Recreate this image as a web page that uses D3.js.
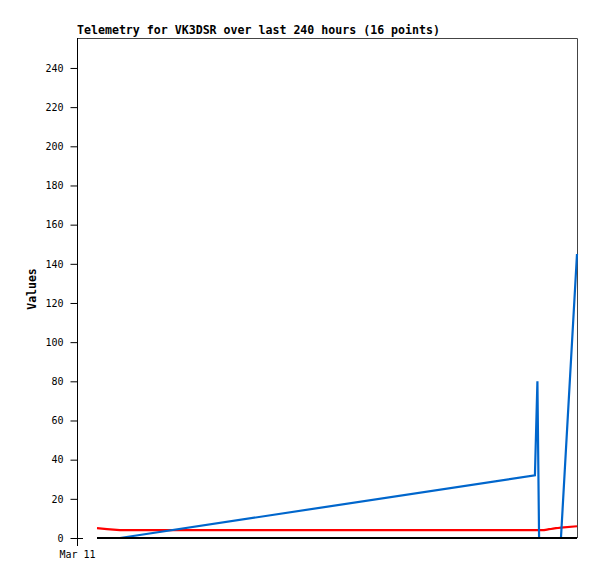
<!DOCTYPE html>
<html>
<head>
<meta charset="utf-8">
<script src="https://cdn.jsdelivr.net/npm/d3@7"></script>
<style>
  body { margin: 0; background: #fff; }
  svg { display: block; }
</style>
</head>
<body>
<div id="chart"></div>
<script>
// hours since Mar 11 00:00 for the 16 telemetry points
var hours = [9.6, 14.4, 20.6, 219.8, 221.0, 221.8, 222.7, 224.2, 225.6, 226.6, 227.5, 228.5, 229.9, 230.9, 232.3, 240];
var blueValues = [0, 0, 0, 32, 80, 0, 0, 0, 0, 0, 0, 0, 0, 0, 0, 145];
var redValues = [5, 4.5, 4, 4, 4, 4, 4, 4, 4.3, 4.5, 4.6, 4.8, 5, 5.1, 5.3, 6];
var blackValues = [0, 0, 0, 0, 0, 0, 0, 0, 0, 0, 0, 0, 0, 0, 0, 0];
var yTicks = [0, 20, 40, 60, 80, 100, 120, 140, 160, 180, 200, 220, 240];
var startDate = new Date(2024, 2, 11, 0, 0);

var width = 597,
    height = 579,
    plotLeft = 77,
    plotRight = 577,
    plotTop = 38,
    plotBottom = 538;

var svg = d3.select("#chart")
    .append("svg")
    .attr("width", width)
    .attr("height", height);

var x = d3.scaleTime()
    .domain([startDate, d3.timeHour.offset(startDate, 240)])
    .range([plotLeft, plotRight]);

var y = d3.scaleLinear()
    .domain([0, 255.3])
    .range([plotBottom, plotTop]);

var dates = hours.map(function (h) { return new Date(startDate.getTime() + h * 3600000); });

// frame
svg.append("path")
    .attr("d", "M" + plotLeft + "," + (plotTop + 0.5) + "H" + (plotRight + 0.5) + "V" + plotBottom)
    .attr("fill", "none")
    .attr("stroke", "#444")
    .attr("stroke-width", 1);

// title
svg.append("text")
    .attr("x", plotLeft)
    .attr("y", 34)
    .style("font-family", "DejaVu Sans Mono")
    .style("font-weight", "bold")
    .style("font-size", "11.6px")
    .text("Telemetry for VK3DSR over last 240 hours (16 points)");

// y label
svg.append("text")
    .attr("transform", "translate(36,289) rotate(-90)")
    .attr("text-anchor", "middle")
    .style("font-family", "DejaVu Sans Mono")
    .style("font-weight", "bold")
    .style("font-size", "11.5px")
    .text("Values");

// y axis
var yAxis = d3.axisLeft(y)
    .tickValues(yTicks)
    .tickSize(7)
    .tickPadding(7);

var gy = svg.append("g")
    .attr("transform", "translate(" + (plotLeft + 0.5) + ",0)")
    .call(yAxis);
gy.select(".domain").remove();
gy.selectAll("text")
    .style("font-family", "DejaVu Sans Mono")
    .style("font-size", "10px")
    .attr("fill", "#000");
gy.selectAll("line").attr("stroke", "#000");

svg.append("line")
    .attr("x1", plotLeft + 0.5).attr("x2", plotLeft + 0.5)
    .attr("y1", plotTop).attr("y2", plotBottom + 8)
    .attr("stroke", "#000");
svg.append("line")
    .attr("x1", plotLeft).attr("x2", plotLeft + 6)
    .attr("y1", y(0) + 0.5).attr("y2", y(0) + 0.5)
    .attr("stroke", "#000");

// x axis label
var xAxis = d3.axisBottom(x)
    .tickValues([startDate])
    .tickFormat(d3.timeFormat("%b %d"))
    .tickSize(0)
    .tickPadding(13);
var gx = svg.append("g")
    .attr("transform", "translate(0," + plotBottom + ")")
    .call(xAxis);
gx.select(".domain").remove();
gx.selectAll("text")
    .style("font-family", "DejaVu Sans Mono")
    .style("font-size", "10px")
    .attr("fill", "#000");

// series
function drawSeries(values, color) {
    var line = d3.line()
        .x(function (d, i) { return x(dates[i]); })
        .y(function (d) { return y(d); });
    svg.append("path")
        .datum(values)
        .attr("d", line)
        .attr("fill", "none")
        .attr("stroke", color)
        .attr("stroke-width", 2.2);
}

drawSeries(redValues, "#ff0000");
drawSeries(blueValues, "#0066cc");
drawSeries(blackValues, "#000000");
</script>
</body>
</html>
